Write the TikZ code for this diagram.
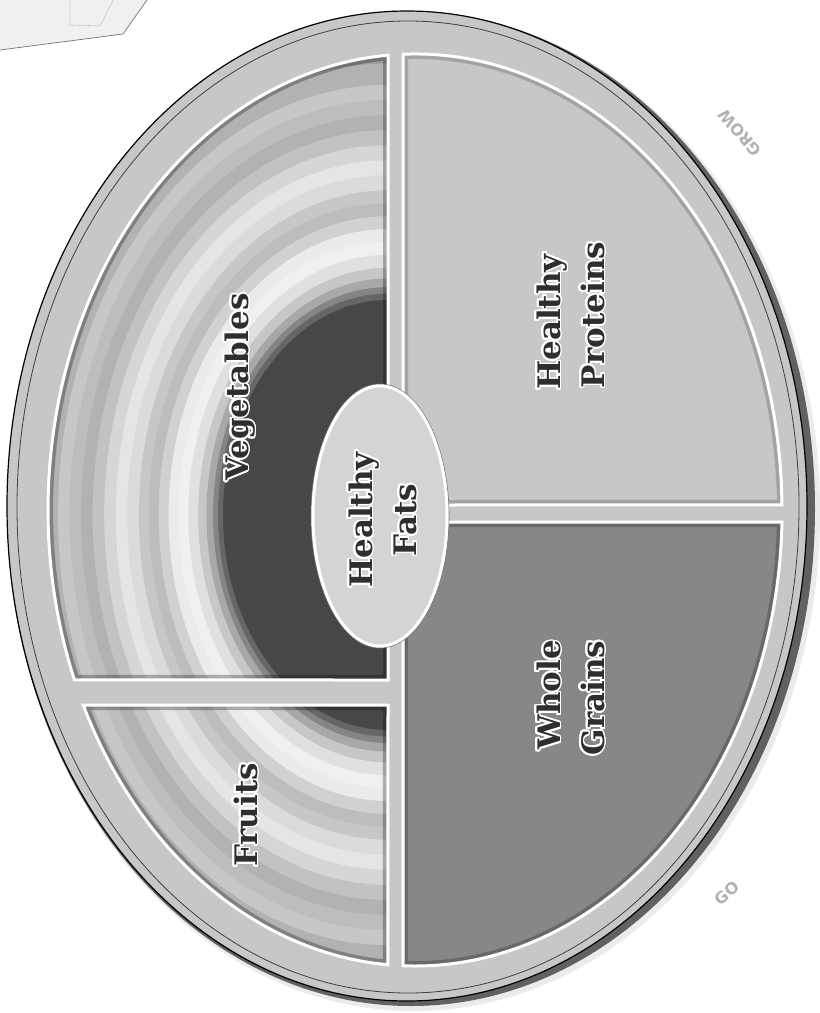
\documentclass[tikz,border=0pt]{standalone}
\usepackage{fontspec}
\setmainfont{DejaVu Serif}
\setsansfont{DejaVu Sans}
\usepackage[copies]{contour}
\contourlength{1.8pt}
\contournumber{24}
\begin{document}
\begin{tikzpicture}[x=1pt,y=-1pt,
  lbl/.style={text=black!82, font=\fontsize{31}{31}\selectfont\bfseries, rotate=90, anchor=base, inner sep=0pt},
  wm/.style={text=black!30, font=\sffamily\bfseries\fontsize{16}{16}\selectfont, inner sep=0pt},
  border/.style={draw=white, line width=3pt},
  innershadow/.style={draw=black, opacity=0.28, line width=10pt}]
\useasboundingbox (0,0) rectangle (820,1013);
\fill[white] (0,0) rectangle (820,1013);

% napkin corner
\fill[black!6] (0,0) -- (147,0) -- (123,34) -- (0,50) -- cycle;
\draw[black!55, line width=0.7pt] (0,50) -- (123,34) -- (147,0);
\draw[black!30, densely dotted, line width=0.8pt] (70,0) -- (70,25) -- (100,26) -- (113,0);

% plate body
\fill[black!8] (414,512) ellipse [x radius=406, y radius=499];
\fill[black!62] (411,509) ellipse [x radius=404, y radius=497];
\filldraw[fill=black!22, draw=black, line width=1.2pt] (407,506) ellipse [x radius=400, y radius=495];
\draw[black!75, line width=0.8pt] (408,507) ellipse [x radius=391, y radius=486];

\def\vegpath{(388,680) -- (388,55.2) arc[start angle=265.78, end angle=158.11, x radius=367, y radius=456] -- cycle}
\def\fruitpath{(388,705) -- (83.2,705) arc[start angle=154.68, end angle=94.22, x radius=367, y radius=456] -- cycle}
\def\protpath{(403,505) -- (403,54.2) arc[start angle=268.13, end angle=359.37, x radius=367, y radius=456] -- cycle}
\def\grainpath{(403,522) -- (782,522) arc[start angle=1.508, end angle=91.87, x radius=367, y radius=456] -- cycle}
\def\ringlist{2.4/38, 2.1/30, 2.0/22, 1.93/26, 1.86/30, 1.79/24, 1.72/16, 1.65/10, 1.58/14, 1.51/22, 1.45/26, 1.39/18, 1.33/8, 1.27/6, 1.21/12, 1.15/22, 1.10/34, 1.06/48, 1.03/60, 1.0/72}

% vegetables and fruits: concentric rings
\begin{scope}
  \clip \vegpath;
  \foreach \f/\c in \ringlist
    \fill[black!\c] (388,515) ellipse [x radius={165*\f}, y radius={215*\f}];
  \path[innershadow] \vegpath;
\end{scope}
\begin{scope}
  \clip \fruitpath;
  \foreach \f/\c in \ringlist
    \fill[black!\c] (388,515) ellipse [x radius={165*\f}, y radius={215*\f}];
  \path[innershadow] \fruitpath;
\end{scope}
\begin{scope}
  \clip \protpath;
  \fill[black!22] (400,0) rectangle (820,520);
  \path[innershadow, opacity=0.18] \protpath;
\end{scope}
\begin{scope}
  \clip \grainpath;
  \fill[black!47] (400,500) rectangle (820,1013);
  \path[innershadow, opacity=0.22] \grainpath;
\end{scope}
\path[border] \vegpath;
\path[border] \fruitpath;
\path[border] \protpath;
\path[border] \grainpath;

% healthy fats ellipse
\filldraw[fill=black!17, draw=black!55, line width=0.6pt] (380,516) ellipse [x radius=69, y radius=132];
\draw[white, line width=3pt] (380,516) ellipse [x radius=67, y radius=130];

% labels
\node[lbl] (veg) at (248,387) {\contour{white}{Vegetables}};
\node[lbl] (fruits) at (257,815) {\contour{white}{Fruits}};
\node[lbl] (fats1) at (372,520) {\contour{white}{Healthy}};
\node[lbl] (fats2) at (416,520) {\contour{white}{Fats}};
\node[lbl] (prot1) at (560,322) {\contour{white}{Healthy}};
\node[lbl] (prot2) at (604,315) {\contour{white}{Proteins}};
\node[lbl] (grain1) at (560,695) {\contour{white}{Whole}};
\node[lbl] (grain2) at (604,698) {\contour{white}{Grains}};

% faint rim stamps
\node[wm, rotate=130] (grow) at (740,133) {GROW};
\node[wm, rotate=40] (go) at (727,893) {GO};
\end{tikzpicture}
\end{document}
